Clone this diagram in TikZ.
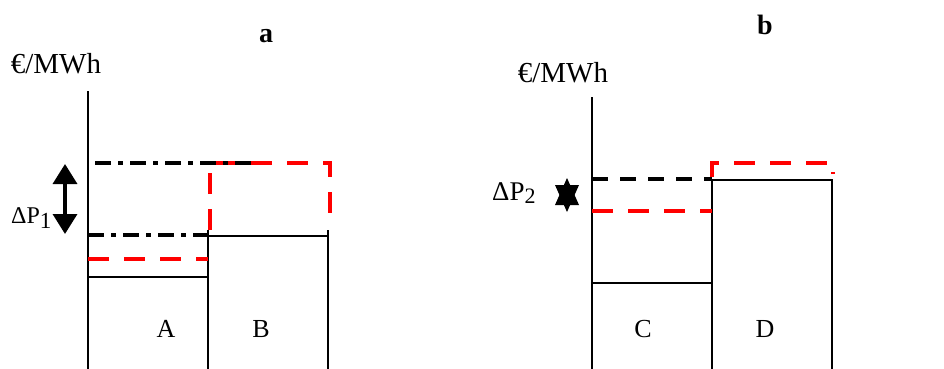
\documentclass[tikz,border=0pt]{standalone}
\usepackage{fontspec}
\setmainfont{Liberation Serif}
\usetikzlibrary{arrows.meta}
\begin{document}
\begin{tikzpicture}[x=1pt,y=-1pt,
  solidline/.style={line width=1.5pt},
  reddash/.style={draw=red, line width=4pt, dash pattern=on 21pt off 15pt},
  blackdash/.style={line width=3.5pt, dash pattern=on 16pt off 12pt},
  dashdot/.style={line width=3.2pt, dash pattern=on 16pt off 7pt on 5pt off 7pt},
  unit/.style={font=\fontsize{29}{34}\selectfont, inner sep=0pt},
  blk/.style={font=\fontsize{26}{30}\selectfont, inner sep=0pt},
  dpa/.style={font=\fontsize{24}{28}\selectfont, inner sep=0pt},
  dpb/.style={font=\fontsize{27}{31}\selectfont, inner sep=0pt},
  ttl/.style={font=\fontsize{28}{32}\selectfont\bfseries, inner sep=0pt}]
\useasboundingbox (0,0) rectangle (944,369);

% ---------- panel a ----------
\node[ttl, anchor=base] (ta) at (266,42) {a};
\node[unit, anchor=base] (ua) at (56,74) {€/MWh};
\coordinate (axA1) at (88,91);   \coordinate (axA2) at (88,369);
\draw[solidline] (axA1) -- (axA2);
% A block
\coordinate (A1) at (88,277); \coordinate (A2) at (208,277); \coordinate (A3) at (208,369);
\draw[solidline] (A1) -- (A2);
\coordinate (AB1) at (208,230);
\draw[solidline] (AB1) -- (A3);
% B block
\coordinate (B1) at (208,236); \coordinate (B2) at (328,236);
\coordinate (B3) at (328,230); \coordinate (B4) at (328,369);
\draw[solidline] (B1) -- (B2);
\draw[solidline] (B3) -- (B4);
% red dashed shapes
\coordinate (ra1) at (88,259); \coordinate (ra2) at (208,259);
\draw[reddash] (ra1) -- (ra2);
\coordinate (rb1) at (210,230); \coordinate (rb2) at (210,163);
\coordinate (rb3) at (330,163); \coordinate (rb4) at (330,226);
\draw[reddash] (rb1) -- (rb2) -- (rb3) -- (rb4);
% black dash-dot
\coordinate (da1) at (95,163); \coordinate (da2) at (256,163);
\draw[dashdot] (da1) -- (da2);
\coordinate (db1) at (88,235); \coordinate (db2) at (208,235);
\draw[dashdot] (db1) -- (db2);
% arrow
\coordinate (arA1) at (65,164); \coordinate (arA2) at (65,234);
\draw[line width=3.5pt, {Triangle[width=24pt,length=20pt]}-{Triangle[width=24pt,length=20pt]}] (arA1) -- (arA2);
\node[dpa, anchor=base west] (dp1) at (11,223) {ΔP\raisebox{-5pt}{\fontsize{23}{26}\selectfont 1}};
\node[blk, anchor=base] (la) at (166,337) {A};
\node[blk, anchor=base] (lb) at (261,337) {B};

% ---------- panel b ----------
\node[ttl, anchor=base] (tb) at (765,35) {b};
\node[unit, anchor=base] (ub) at (563,82) {€/MWh};
\coordinate (axB1) at (592,97);  \coordinate (axB2) at (592,369);
\draw[solidline] (axB1) -- (axB2);
% C block
\coordinate (C1) at (592,283); \coordinate (C2) at (712,283);
\draw[solidline] (C1) -- (C2);
\coordinate (CD1) at (712,180); \coordinate (CD2) at (712,369);
\draw[solidline] (CD1) -- (CD2);
% D block
\coordinate (D1) at (712,180); \coordinate (D2) at (832,180); \coordinate (D3) at (832,369);
\draw[solidline] (D1) -- (D2) -- (D3);
% dashed
\coordinate (kb1) at (592,179); \coordinate (kb2) at (712,179);
\draw[blackdash] (kb1) -- (kb2);
\coordinate (rc1) at (592,211); \coordinate (rc2) at (712,211);
\draw[reddash] (rc1) -- (rc2);
\coordinate (rd1) at (712,177); \coordinate (rd2) at (712,163);
\coordinate (rd3) at (833,163); \coordinate (rd4) at (833,174);
\draw[reddash] (rd1) -- (rd2) -- (rd3) -- (rd4);
% star arrow
\fill (567,178) -- (579,205) -- (555,205) -- cycle;
\fill (567,212) -- (579,185) -- (555,185) -- cycle;
\node[dpb, anchor=base west] (dp2) at (492,200) {ΔP\raisebox{-3pt}{\fontsize{22}{26}\selectfont 2}};
\node[blk, anchor=base] (lc) at (643,337) {C};
\node[blk, anchor=base] (ld) at (765,337) {D};
\end{tikzpicture}
\end{document}
